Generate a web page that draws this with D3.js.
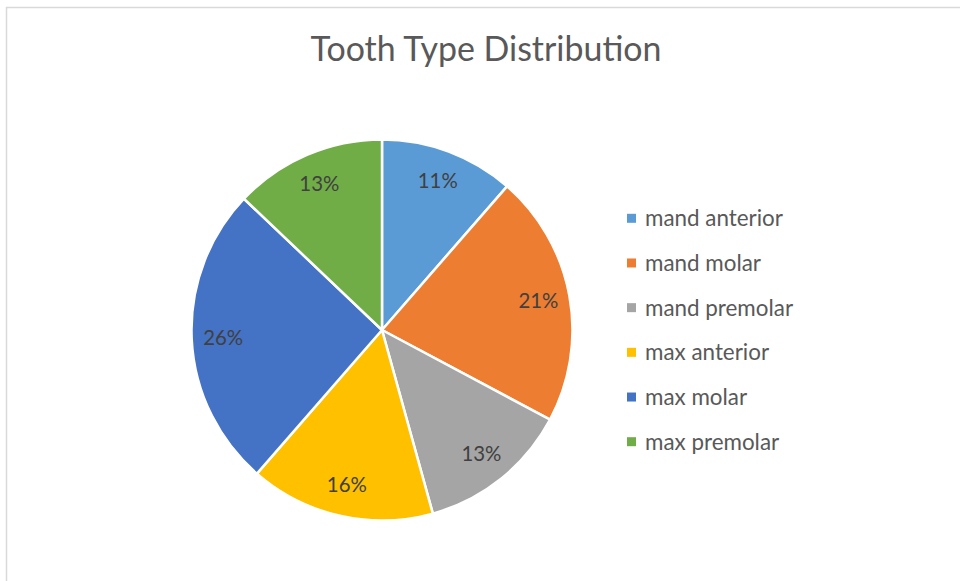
<!DOCTYPE html>
<html>
<head>
<meta charset="utf-8">
<script src="https://cdn.jsdelivr.net/npm/d3@7"></script>
<style>
  html, body { margin: 0; padding: 0; background: #fff; }
  svg { display: block; }
  text { font-family: Lato, "Open Sans", sans-serif; }
</style>
</head>
<body>
<svg id="chart" width="960" height="581"></svg>
<script>
// ---- data ----
const title = "Tooth Type Distribution";
const categories = ["mand anterior", "mand molar", "mand premolar", "max anterior", "max molar", "max premolar"];
const values = [11.4, 21.4, 12.9, 15.7, 25.7, 12.9];
const colors = ["#5B9BD5", "#ED7D31", "#A5A5A5", "#FFC000", "#4472C4", "#70AD47"];

const svg = d3.select("#chart");
const W = 960, H = 581;

// chart border (only top and left visible)
svg.append("rect")
  .attr("x", 6.5).attr("y", 7.5)
  .attr("width", W + 20).attr("height", H + 20)
  .attr("fill", "#fff").attr("stroke", "#d9d9d9").attr("stroke-width", 1.5);

function fitWidth(sel, target) {
  const w = sel.node().getComputedTextLength();
  const fs = parseFloat(sel.attr("font-size"));
  sel.attr("font-size", (fs * target / w).toFixed(2));
}

// title
const t = svg.append("text")
  .attr("x", 486).attr("y", 61)
  .attr("text-anchor", "middle")
  .attr("fill", "#595959")
  .attr("font-size", 30)
  .text(title);
fitWidth(t, 351);

// pie
const cx = 382, cy = 330, R = 190.5, labelR = 159;
const total = d3.sum(values);
const pie = d3.pie().sort(null).value(d => d)(values);
const arc = d3.arc().innerRadius(0).outerRadius(R);
const labelArc = d3.arc().innerRadius(labelR).outerRadius(labelR);
const color = d3.scaleOrdinal().domain(categories).range(colors);

const g = svg.append("g").attr("transform", `translate(${cx},${cy})`);
g.selectAll("path.slice")
  .data(pie)
  .join("path")
  .attr("class", "slice")
  .attr("d", arc)
  .attr("fill", (d, i) => color(categories[i]))
  .attr("stroke", "#fff")
  .attr("stroke-width", 2.5)
  .attr("stroke-linejoin", "round");

const labels = g.selectAll("text.lbl")
  .data(pie)
  .join("text")
  .attr("class", "lbl")
  .attr("transform", d => `translate(${labelArc.centroid(d)})`)
  .attr("text-anchor", "middle")
  .attr("dy", "0.35em")
  .attr("fill", "#404040")
  .attr("font-size", 19)
  .text(d => Math.round(d.value / total * 100) + "%");
// fit label size so "11%" ~ 40px wide
{
  const first = labels.filter((d, i) => i === 0);
  const w = first.node().getComputedTextLength();
  const fs = 19 * 40 / w;
  labels.attr("font-size", fs.toFixed(2));
}

// legend
const legY = d3.scalePoint().domain(categories).range([218.3, 441.7]);
const leg = svg.append("g");
const items = leg.selectAll("g.item")
  .data(categories)
  .join("g")
  .attr("class", "item")
  .attr("transform", d => `translate(627,${legY(d)})`);
items.append("rect")
  .attr("x", 0).attr("y", -4.5)
  .attr("width", 9).attr("height", 9)
  .attr("fill", d => color(d));
const legTexts = items.append("text")
  .attr("x", 18).attr("y", 0)
  .attr("dy", "0.35em")
  .attr("fill", "#595959")
  .attr("font-size", 18)
  .text(d => d);
{
  const first = legTexts.filter((d, i) => i === 0);
  const w = first.node().getComputedTextLength();
  legTexts.attr("font-size", (18 * 138 / w).toFixed(2));
}
</script>
</body>
</html>
